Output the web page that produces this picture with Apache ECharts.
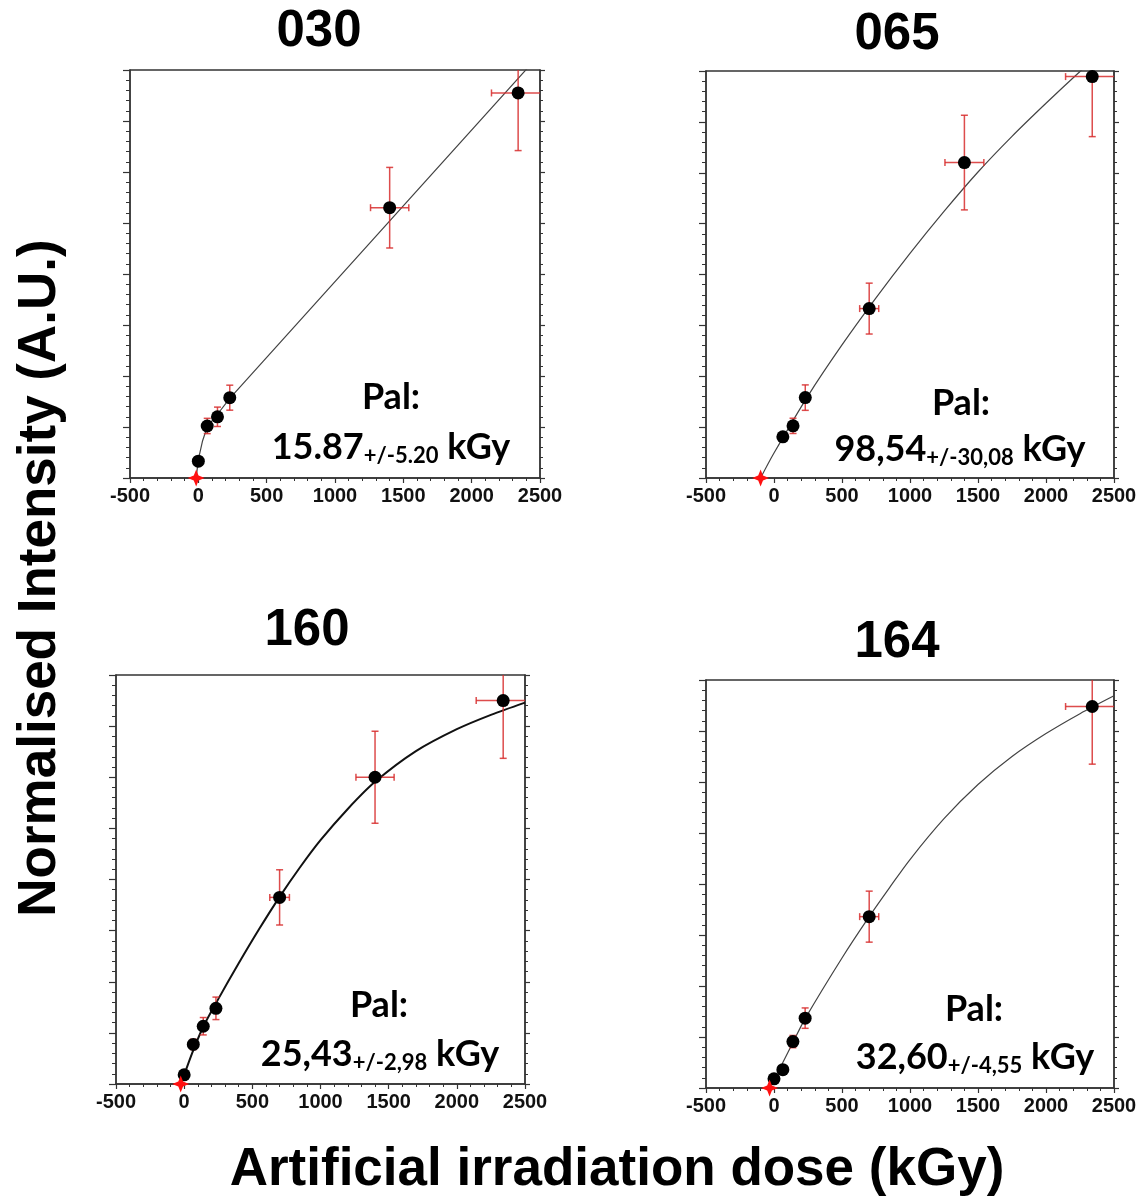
<!DOCTYPE html>
<html><head><meta charset="utf-8">
<script src="https://cdn.jsdelivr.net/npm/echarts@6/dist/echarts.min.js"></script>
<style>html,body{margin:0;padding:0;background:#fff}#c{width:1145px;height:1202px}</style>
</head><body><div id="c"></div>
<script>
// ---- data ----
const panelNames = ['030', '065', '160', '164'];
const palValues = ['15.87', '98,54', '25,43', '32,60'];
const palErrors = ['5.20', '30,08', '2,98', '4,55'];
const palDose = [-15.87, -98.54, -25.43, -32.60];

const xMin = -500, xMax = 2500, xInterval = 500;
const yMin = 0, yMax = 8, yInterval = 1;

const dose030 = [0, 65, 140, 230, 1400, 2340];
const int030 = [0.33, 1.02, 1.20, 1.575, 5.30, 7.55];
const doseErr030 = [0, 7, 14, 23, 140, 195];
const intErr030 = [0.04, 0.15, 0.19, 0.245, 0.79, 1.13];
const fitDose030 = [-15.87, 0, 30, 65, 100, 140, 230, 2500];
const fitInt030 = [0, 0.36, 0.72, 1.0, 1.12, 1.25, 1.56, 8.31];

const dose065 = [65, 140, 230, 700, 1400, 2340];
const int065 = [0.81, 1.025, 1.58, 3.33, 6.20, 7.89];
const doseErr065 = [7, 14, 23, 70, 143, 196];
const intErr065 = [0.07, 0.15, 0.25, 0.50, 0.93, 1.18];
const fitDose065 = [-98.54, 0, 250, 500, 750, 1000, 1250, 1500, 1750, 2000, 2250, 2500];
const fitInt065 = [0, 0.49, 1.615, 2.615, 3.54, 4.415, 5.24, 6.015, 6.715, 7.365, 7.99, 8.59];

const dose160 = [0, 67, 140, 233, 700, 1400, 2340];
const int160 = [0.18, 0.775, 1.13, 1.48, 3.65, 6.0, 7.5];
const doseErr160 = [0, 7, 14, 23, 72, 140, 198];
const intErr160 = [0.04, 0.1, 0.17, 0.22, 0.54, 0.9, 1.13];
const fitDose160 = [-25.43, 0, 70, 140, 250, 400, 550, 700, 850, 1000, 1200, 1400, 1700, 2000, 2250, 2500];
const fitInt160 = [0, 0.18, 0.68, 1.12, 1.66, 2.36, 3.03, 3.66, 4.24, 4.77, 5.38, 5.91, 6.51, 6.94, 7.22, 7.46];

const dose164 = [0, 65, 139, 229, 700, 2340];
const int164 = [0.18, 0.36, 0.91, 1.37, 3.36, 7.48];
const doseErr164 = [0, 7, 14, 23, 70, 196];
const intErr164 = [0.03, 0.05, 0.12, 0.2, 0.5, 1.13];
const fitDose164 = [-32.60, 0, 65, 139, 229, 500, 700, 850, 1000, 1250, 1500, 1750, 2000, 2250, 2500];
const fitInt164 = [0, 0.17, 0.5, 0.89, 1.36, 2.55, 3.36, 3.93, 4.48, 5.28, 5.95, 6.50, 6.95, 7.34, 7.69];

const xTitle = 'Artificial irradiation dose (kGy)';
const yTitle = 'Normalised Intensity (A.U.)';

// ---- build ----
const panels = [
  {dose: dose030, val: int030, dx: doseErr030, dy: intErr030, fx: fitDose030, fy: fitInt030},
  {dose: dose065, val: int065, dx: doseErr065, dy: intErr065, fx: fitDose065, fy: fitInt065},
  {dose: dose160, val: int160, dx: doseErr160, dy: intErr160, fx: fitDose160, fy: fitInt160},
  {dose: dose164, val: int164, dx: doseErr164, dy: intErr164, fx: fitDose164, fy: fitInt164}
];
const gridBoxes = [
  {left: 130, top: 70, width: 410, height: 408},
  {left: 706, top: 71, width: 408, height: 407},
  {left: 116, top: 675, width: 409, height: 409},
  {left: 706, top: 680, width: 408, height: 408}
];
const titlePos = [[319, 32], [897, 35], [307, 631], [897, 643]];
const palPos = [[391, 397], [961, 403], [379, 1005], [974, 1009]];
const mainPos = [[391, 447], [960, 449], [380, 1054], [975, 1057]];

const axisColor = '#333';
const errColor = 'rgba(215,45,45,0.85)';
const FONT = '"Liberation Sans", Arial, Helvetica, sans-serif';
const PALFONT = 'Lato, "Open Sans", sans-serif';

const grid = [], xAxis = [], yAxis = [], series = [], graphic = [];
gridBoxes.forEach((g, i) => {
  grid.push(Object.assign({show: true, borderColor: axisColor, borderWidth: 1.3, backgroundColor: 'transparent', containLabel: false, outerBoundsMode: 'none'}, g));
  xAxis.push({
    gridIndex: i, type: 'value', min: xMin, max: xMax, interval: xInterval,
    axisLine: {show: true, onZero: false, lineStyle: {color: axisColor, width: 1.5}},
    axisTick: {show: true, length: 5, lineStyle: {color: axisColor, width: 1.2}},
    minorTick: {show: true, splitNumber: 5, length: 3, lineStyle: {color: axisColor, width: 1}},
    splitLine: {show: false}, minorSplitLine: {show: false},
    axisLabel: {show: true, fontSize: 20, fontWeight: 'bold', color: '#111', margin: 8, fontFamily: FONT,
      showMinLabel: true, showMaxLabel: true, hideOverlap: false, formatter: v => String(v)}
  });
  ['left', 'right'].forEach(pos => {
    yAxis.push({
      gridIndex: i, type: 'value', min: yMin, max: yMax, interval: yInterval, position: pos,
      axisLine: {show: true, onZero: false, lineStyle: {color: axisColor, width: 1.5}},
      axisTick: {show: true, length: pos === 'left' ? 7 : 5, lineStyle: {color: axisColor, width: 1.2}},
      minorTick: {show: true, splitNumber: 5, length: pos === 'left' ? 4 : 3, lineStyle: {color: axisColor, width: 1}},
      splitLine: {show: false}, minorSplitLine: {show: false},
      axisLabel: {show: false}
    });
  });
  const p = panels[i];
  series.push({
    type: 'line', xAxisIndex: i, yAxisIndex: 2 * i,
    data: p.fx.map((x, k) => [x, p.fy[k]]),
    symbol: 'none', showSymbol: false, smooth: i === 0 ? false : 0.3, clip: true,
    lineStyle: {color: i === 2 ? '#111' : '#444', width: i === 2 ? 2 : 1.2}, z: 2, silent: true
  });
  series.push({
    type: 'custom', xAxisIndex: i, yAxisIndex: 2 * i, clip: true, z: 3, silent: true,
    data: p.dose.map((d, k) => [d, p.val[k], p.dx[k], p.dy[k]]),
    renderItem: function (params, api) {
      const x = api.value(0), y = api.value(1), ex = api.value(2), ey = api.value(3);
      const children = [];
      const st = {stroke: errColor, lineWidth: 1.5, fill: null};
      const cap = 3.5;
      if (ey > 0) {
        const t = api.coord([x, y + ey]), b = api.coord([x, y - ey]);
        children.push({type: 'line', shape: {x1: t[0], y1: t[1], x2: b[0], y2: b[1]}, style: st});
        children.push({type: 'line', shape: {x1: t[0] - cap, y1: t[1], x2: t[0] + cap, y2: t[1]}, style: st});
        children.push({type: 'line', shape: {x1: b[0] - cap, y1: b[1], x2: b[0] + cap, y2: b[1]}, style: st});
      }
      if (ex > 0) {
        const l = api.coord([x - ex, y]), r = api.coord([x + ex, y]);
        children.push({type: 'line', shape: {x1: l[0], y1: l[1], x2: r[0], y2: r[1]}, style: st});
        children.push({type: 'line', shape: {x1: l[0], y1: l[1] - cap, x2: l[0], y2: l[1] + cap}, style: st});
        children.push({type: 'line', shape: {x1: r[0], y1: r[1] - cap, x2: r[0], y2: r[1] + cap}, style: st});
      }
      return {type: 'group', children: children};
    }
  });
  series.push({
    type: 'scatter', xAxisIndex: i, yAxisIndex: 2 * i, symbol: 'circle', symbolSize: 13,
    data: p.dose.map((d, k) => [d, p.val[k]]), itemStyle: {color: '#000', opacity: 1}, z: 4, silent: true
  });
  series.push({
    type: 'scatter', xAxisIndex: i, yAxisIndex: 2 * i, clip: false,
    symbol: 'path://M0,-10 L2.8,-2.8 L10,0 L2.8,2.8 L0,10 L-2.8,2.8 L-10,0 L-2.8,-2.8 Z',
    symbolSize: 17, data: [[palDose[i], 0]], itemStyle: {color: '#ff1010', opacity: 1}, z: 5, silent: true
  });

  graphic.push({
    type: 'text', x: titlePos[i][0], y: titlePos[i][1],
    style: {text: panelNames[i], font: 'bold 51px ' + FONT, fill: '#000', align: 'center', verticalAlign: 'middle', textAlign: 'center', textVerticalAlign: 'middle'}
  });
  graphic.push({
    type: 'text', x: palPos[i][0], y: palPos[i][1],
    style: {text: 'Pal:', font: 'bold 36px ' + PALFONT, fill: '#000', align: 'center', verticalAlign: 'middle', textAlign: 'center', textVerticalAlign: 'middle'}
  });
  graphic.push({
    type: 'text', x: mainPos[i][0], y: mainPos[i][1],
    style: {
      text: '{m|' + palValues[i] + '}{s|+/-' + palErrors[i] + '}{m| kGy}',
      align: 'center', verticalAlign: 'middle', textAlign: 'center', textVerticalAlign: 'middle',
      rich: {
        m: {fontSize: 36, fontWeight: 'bold', fontFamily: PALFONT, lineHeight: 40, verticalAlign: 'middle', color: '#000'},
        s: {fontSize: 22, fontWeight: 'bold', fontFamily: PALFONT, lineHeight: 21, verticalAlign: 'bottom', color: '#000'}
      }
    }
  });
});

graphic.push({
  type: 'text', x: 617, y: 1170,
  style: {text: xTitle, font: 'bold 53px ' + FONT, fill: '#000', align: 'center', verticalAlign: 'middle', textAlign: 'center', textVerticalAlign: 'middle'}
});
graphic.push({
  type: 'text', x: 40, y: 578, rotation: Math.PI / 2,
  style: {text: yTitle, font: 'bold 53px ' + FONT, fill: '#000', align: 'center', verticalAlign: 'middle', textAlign: 'center', textVerticalAlign: 'middle'}
});

const chart = echarts.init(document.getElementById('c'), null, {renderer: 'canvas'});
chart.setOption({
  animation: false,
  backgroundColor: '#fff',
  grid: grid, xAxis: xAxis, yAxis: yAxis, series: series, graphic: graphic
});
</script>
</body></html>
